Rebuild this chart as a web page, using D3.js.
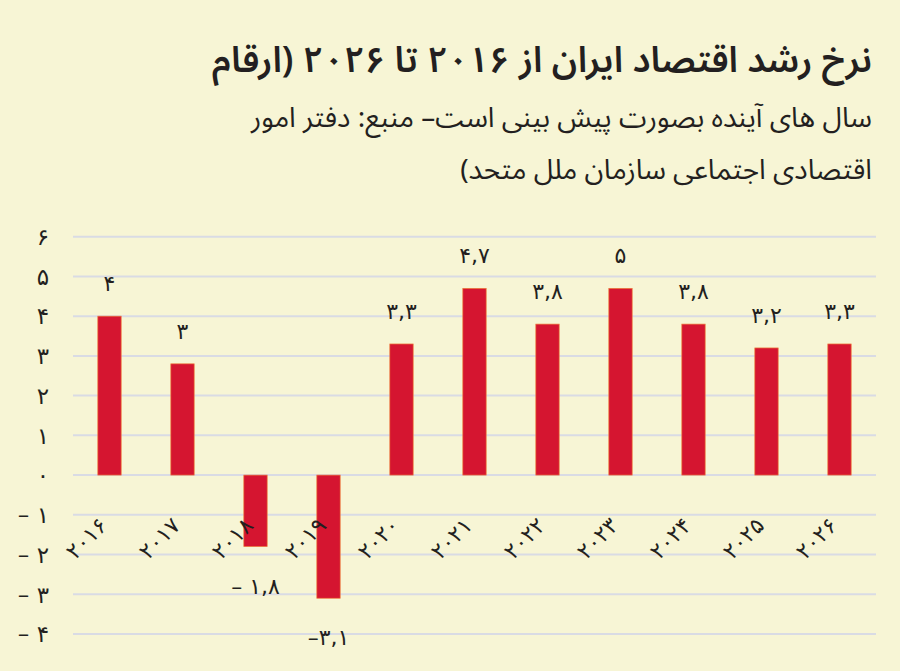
<!DOCTYPE html>
<html>
<head>
<meta charset="utf-8">
<script src="https://cdn.jsdelivr.net/npm/d3@7"></script>
<style>
  body { margin: 0; background: #f7f5d5; }
  svg { display: block; }
  text { font-family: "Noto Sans Arabic", "DejaVu Sans", sans-serif; fill: #231f20; }
  text.num { font-family: "DejaVu Sans", sans-serif; }
</style>
</head>
<body>
<script>
var width = 900,
    height = 671;

// years on the x axis, growth rate of each year, and the label printed above/below each bar
const years = ["۲۰۱۶", "۲۰۱۷", "۲۰۱۸", "۲۰۱۹", "۲۰۲۰", "۲۰۲۱", "۲۰۲۲", "۲۰۲۳", "۲۰۲۴", "۲۰۲۵", "۲۰۲۶"];
const growth = [4, 2.8, -1.8, -3.1, 3.3, 4.7, 3.8, 4.7, 3.8, 3.2, 3.3];
const value_labels = ["۴", "۳", "– ۱,۸", "–۳,۱", "۳,۳", "۴,۷", "۳,۸", "۵", "۳,۸", "۳,۲", "۳,۳"];

const y_ticks = [-4, -3, -2, -1, 0, 1, 2, 3, 4, 5, 6];
const y_tick_labels = ["– ۴", "– ۳", "– ۲", "– ۱", "۰", "۱", "۲", "۳", "۴", "۵", "۶"];

const title_lines = [
    "نرخ رشد اقتصاد ایران از ۲۰۱۶ تا ۲۰۲۶ (ارقام",
    "سال های آینده بصورت پیش بینی است– منبع: دفتر امور",
    "اقتصادی اجتماعی سازمان ملل متحد)"
];

const svg = d3.select("body")
    .append("svg")
    .attr("width", width)
    .attr("height", height);

svg.append("rect")
    .attr("width", width)
    .attr("height", height)
    .attr("fill", "#f7f5d5");

const x = d3.scaleBand()
    .domain(years)
    .range([73, 876])
    .paddingInner(0.68)
    .paddingOuter(0.34);

const y = d3.scaleLinear()
    .domain([-4, 6])
    .range([634, 236.7]);

// grid lines
svg.append("g")
    .selectAll("line")
    .data(y_ticks)
    .join("line")
    .attr("x1", 73)
    .attr("x2", 876)
    .attr("y1", d => y(d))
    .attr("y2", d => y(d))
    .attr("stroke", "#d9dbe4")
    .attr("stroke-width", 2);

// y tick labels
svg.append("g")
    .selectAll("text")
    .data(y_ticks)
    .join("text")
    .attr("class", "num")
    .attr("x", 49)
    .attr("y", d => y(d))
    .attr("dy", "0.36em")
    .attr("text-anchor", "end")
    .attr("font-size", 23)
    .text((d, i) => y_tick_labels[i]);

// bars
svg.append("g")
    .selectAll("rect")
    .data(growth)
    .join("rect")
    .attr("x", (d, i) => x(years[i]))
    .attr("width", x.bandwidth())
    .attr("y", d => y(Math.max(0, d)))
    .attr("height", d => Math.abs(y(d) - y(0)))
    .attr("fill", "#d51530")
    .attr("stroke", "#ee7b3a")
    .attr("stroke-width", 0.7);

// value labels
svg.append("g")
    .selectAll("text")
    .data(growth)
    .join("text")
    .attr("class", "num")
    .attr("x", (d, i) => x(years[i]) + x.bandwidth() / 2)
    .attr("y", d => d >= 0 ? y(d) - 33 : y(d) + 39)
    .attr("dy", "0.36em")
    .attr("text-anchor", "middle")
    .attr("font-size", 22)
    .text((d, i) => value_labels[i]);

// year labels, rotated
svg.append("g")
    .selectAll("text")
    .data(years)
    .join("text")
    .attr("class", "num")
    .attr("transform", d => "translate(" + (x(d) + x.bandwidth() / 2 - 1) + ",527) rotate(-45)")
    .attr("text-anchor", "end")
    .attr("font-size", 22)
    .text(d => d);

// title block
svg.append("g")
    .selectAll("text")
    .data(title_lines)
    .join("text")
    .attr("x", 872)
    .attr("y", (d, i) => [72, 127, 179][i])
    .attr("direction", "rtl")
    .attr("text-anchor", "start")
    .attr("font-size", (d, i) => i == 0 ? 36 : 28)
    .attr("font-weight", (d, i) => i == 0 ? 600 : "normal")
    .text(d => d);
</script>
</body>
</html>
